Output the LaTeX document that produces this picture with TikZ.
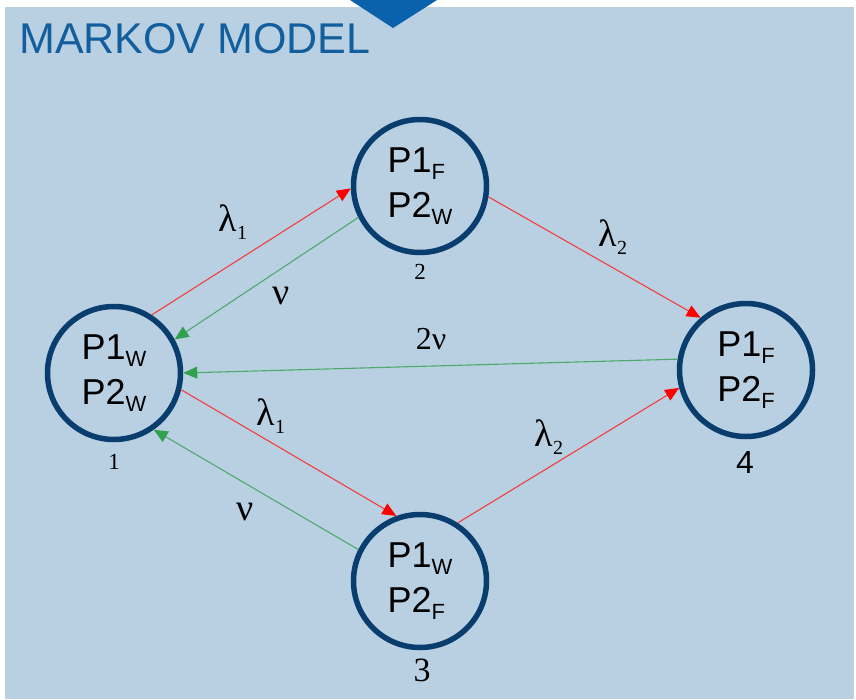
\documentclass[tikz,border=0pt]{standalone}
\usepackage{fontspec}
\usetikzlibrary{arrows.meta}
\newfontfamily\arialf{Liberation Sans}
\newfontfamily\timesf{Liberation Serif}

\definecolor{panelbg}{HTML}{B9D0E3}
\definecolor{navy}{HTML}{083D6E}
\definecolor{titleblue}{HTML}{135E9C}
\definecolor{tabblue}{HTML}{0A62AD}
\definecolor{failred}{HTML}{F23E3E}
\definecolor{tipred}{HTML}{FF0000}
\definecolor{repgreen}{HTML}{4DAA6A}
\definecolor{tipgreen}{HTML}{33A050}

% state text: "P1_F" style with a dropped small subscript
\newcommand{\pst}[2]{P#1\raisebox{-7pt}{\fontsize{22}{22}\selectfont #2}}
% rate symbols
\newcommand{\lamr}[1]{λ\raisebox{-8pt}{\fontsize{20}{20}\selectfont #1}}

\tikzset{
  state/.style={circle, draw=navy, line width=5.5pt, fill=panelbg,
    minimum size=133pt, inner sep=0pt, align=left,
    font=\arialf\fontsize{36}{45}\selectfont},
  fail/.style={draw=failred, line width=1.1pt,
    -{Triangle[length=14pt,width=12pt,color=tipred]}},
  repair/.style={draw=repgreen, line width=1.1pt,
    -{Triangle[length=14pt,width=12pt,color=tipgreen]}},
  rate/.style={inner sep=0pt, font=\timesf\fontsize{38}{38}\selectfont},
  numlab/.style={inner sep=0pt},
}

\begin{document}
\begin{tikzpicture}[x=1pt,y=-1pt]
  \useasboundingbox (0,0) rectangle (856,699);
  % panel and tab
  \fill[white] (0,0) rectangle (856,699);
  \fill[panelbg] (5,7) rectangle (854,699);
  \fill[tabblue] (350,0) -- (437,0) -- (393,28) -- cycle;
  \node[anchor=base west, inner sep=0pt, text=titleblue,
        font=\arialf\fontsize{43}{43}\selectfont] (title) at (19,53) {MARKOV MODEL};

  % states
  \node[state] (s1) at (114,373) {\pst{1}{W}\\\pst{2}{W}};
  \node[state] (s2) at (420,186) {\pst{1}{F}\\\pst{2}{W}};
  \node[state] (s3) at (420,581) {\pst{1}{W}\\\pst{2}{F}};
  \node[state] (s4) at (746,370) {\pst{1}{F}\\\pst{2}{F}};

  % state numbers
  \node[numlab, font=\timesf\fontsize{23}{23}\selectfont] (n1) at (114,462) {1};
  \node[numlab, font=\timesf\fontsize{23}{23}\selectfont] (n2) at (420,272) {2};
  \node[numlab, font=\timesf\fontsize{34}{34}\selectfont] (n3) at (422,670) {3};
  \node[numlab, font=\arialf\fontsize{32}{32}\selectfont] (n4) at (745,462) {4};

  % transitions
  \draw[fail]   (s1.57.7) -- (s2.182);
  \draw[repair] (s2.207)  -- (s1.29);
  \draw[fail]   (s1.-14)  -- (s3.110);
  \draw[repair] (s3.153)  -- (s1.-55);
  \draw[fail]   (s2.-9.5) -- (s4.131);
  \draw[fail]   (s3.57.5) -- (s4.195);
  \draw[repair] (s4.171)  -- (s1.0);

  % rate labels
  \node[rate] (r12) at (233,222) {\lamr{1}};
  \node[rate] (r21) at (281,296) {ν};
  \node[rate] (r13) at (271,416) {\lamr{1}};
  \node[rate] (r31) at (245,512) {ν};
  \node[rate] (r24) at (613,237) {\lamr{2}};
  \node[rate] (r34) at (549,437) {\lamr{2}};
  \node[rate, font=\timesf\fontsize{32}{32}\selectfont] (r41) at (431,339) {2ν};
\end{tikzpicture}
\end{document}
